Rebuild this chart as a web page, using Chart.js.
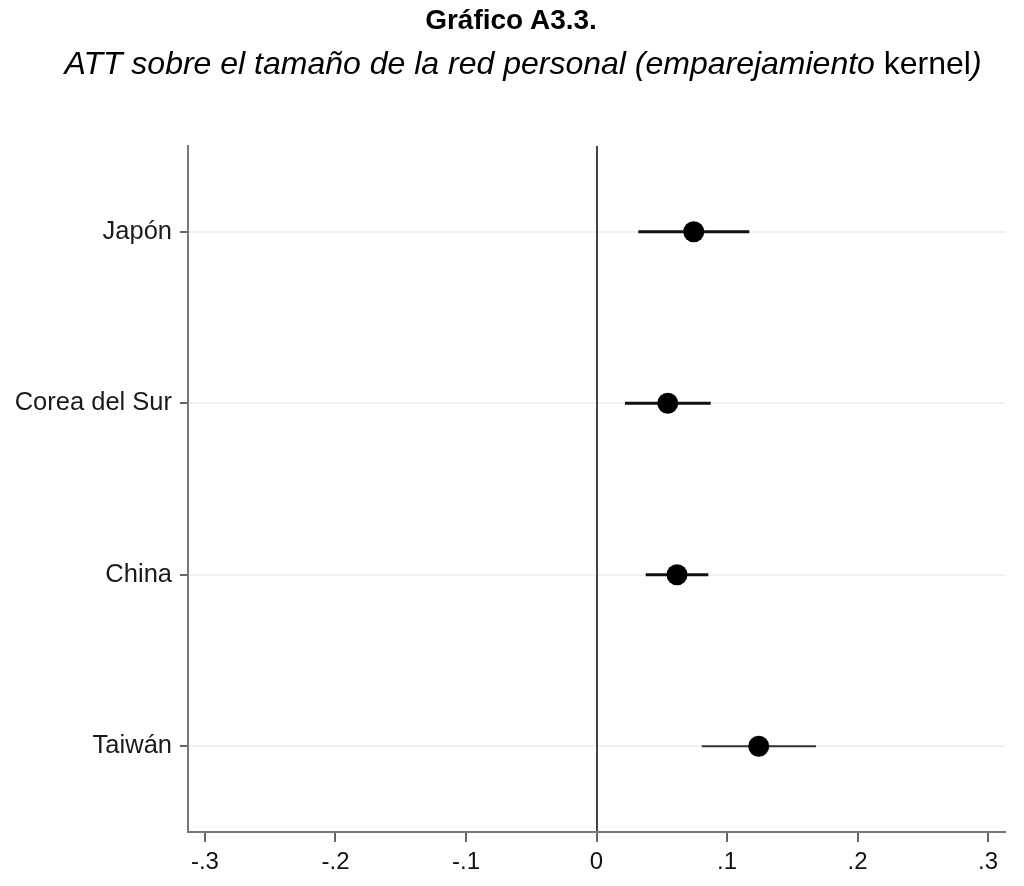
<!DOCTYPE html>
<html>
<head>
<meta charset="utf-8">
<script src="https://cdn.jsdelivr.net/npm/chart.js@4"></script>
<style>
  html, body { margin: 0; padding: 0; background: #fff; }
  #wrap { position: relative; width: 1024px; height: 886px; }
  #chart { position: absolute; left: 0; top: 0; }
  .head { position: absolute; left: 0; width: 1024px; text-align: center; color: #000; font-family: 'Liberation Sans', Arial, sans-serif; }
  #t1 { top: 4px; font-size: 28px; font-weight: bold; line-height: 32px; left: -1px; }
  #t2 { top: 44px; font-size: 32px; font-style: italic; line-height: 38px; left: 11px; }
  #t2 span { font-style: normal; }
</style>
</head>
<body>
<div id="wrap">
  <canvas id="chart" width="1024" height="886"></canvas>
  <div class="head" id="t1">Gráfico A3.3.</div>
  <div class="head" id="t2">ATT sobre el tamaño de la red personal (emparejamiento <span>kernel</span>)</div>
</div>
<script>
// data
const categories = ['Japón', 'Corea del Sur', 'China', 'Taiwán'];
const att = [0.0745, 0.0546, 0.0617, 0.1243];
const ciLower = [0.0320, 0.0218, 0.0377, 0.0806];
const ciUpper = [0.1171, 0.0875, 0.0857, 0.1682];
const xTicks = [-0.3, -0.2, -0.1, 0, 0.1, 0.2, 0.3];
const xTickLabels = ['-.3', '-.2', '-.1', '0', '.1', '.2', '.3'];

const lineWidths = [3, 3, 3, 2];
const FONT = "'Liberation Sans', Arial, sans-serif";

// dots first so they are painted on top of the interval lines
const datasets = [{
    data: categories.map((c, i) => ({ x: att[i], y: i + 1 })),
    pointRadius: 10.5,
    pointBackgroundColor: '#000',
    pointBorderWidth: 0,
    showLine: false
}];

categories.forEach((c, i) => {
    datasets.push({
        data: [{ x: ciLower[i], y: i + 1 }, { x: ciUpper[i], y: i + 1 }],
        showLine: true,
        borderColor: i === 3 ? '#333' : '#111',
        borderWidth: lineWidths[i],
        pointRadius: 0
    });
});

new Chart(document.getElementById('chart').getContext('2d'), {
    type: 'scatter',
    data: { datasets: datasets },
    options: {
        responsive: false,
        animation: false,
        layout: { padding: { top: 146, right: 19, bottom: 0, left: 0 } },
        plugins: {
            legend: { display: false },
            tooltip: { enabled: false }
        },
        scales: {
            x: {
                type: 'linear',
                min: -0.313,
                max: 0.313,
                afterBuildTicks: function(scale) {
                    scale.ticks = xTicks.map(v => ({ value: v }));
                },
                afterFit: function(scale) {
                    scale.height = 54;
                },
                ticks: {
                    padding: 6,
                    color: '#111',
                    font: { family: FONT, size: 24 },
                    maxRotation: 0,
                    callback: function(value, index) {
                        return xTickLabels[index];
                    }
                },
                grid: {
                    z: 0, // zero line over the row grid lines
                    drawOnChartArea: true,
                    color: ctx => (ctx.tick && ctx.tick.value === 0) ? '#444' : 'rgba(0,0,0,0)',
                    tickColor: '#666',
                    tickLength: 10,
                    lineWidth: 2
                },
                border: { display: true, color: '#777', width: 2 }
            },
            y: {
                type: 'linear',
                reverse: true,
                min: 0.5,
                max: 4.5,
                afterBuildTicks: function(scale) {
                    scale.ticks = categories.map((c, i) => ({ value: i + 1 }));
                },
                afterFit: function(scale) {
                    scale.width = 188;
                },
                ticks: {
                    padding: 8,
                    color: '#1a1a1a',
                    font: { family: FONT, size: 25.5 },
                    callback: function(value, index) {
                        return categories[index];
                    }
                },
                grid: {
                    color: '#ecf2f2',
                    tickColor: '#666',
                    tickLength: 8,
                    lineWidth: 2
                },
                border: { display: true, color: '#777', width: 2 }
            }
        }
    }
});
</script>
</body>
</html>
